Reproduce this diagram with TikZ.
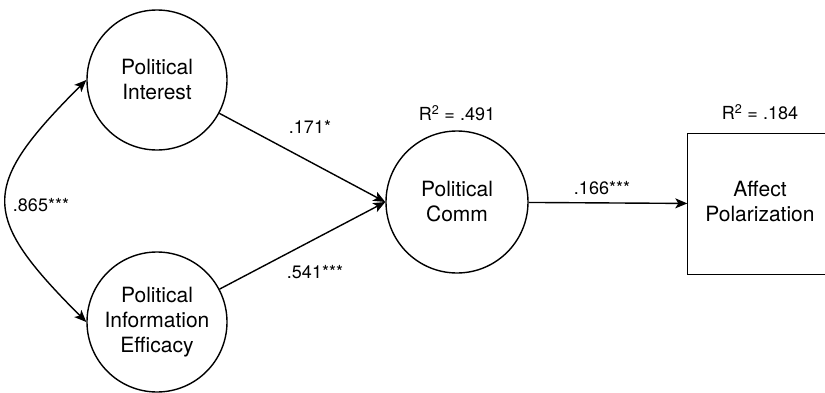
\documentclass[tikz,border=0pt]{standalone}
\usepackage{fontspec}
\setmainfont{TeX Gyre Heros}
\usetikzlibrary{arrows.meta}
\tikzset{
	var/.style={draw, circle, minimum size=140pt, align=center, font=\fontsize{21}{25}\selectfont},
	obs/.style={rectangle, minimum width=180pt, minimum height=140pt, font=\fontsize{21}{25}\selectfont},
	coef/.style={font=\fontsize{18}{21}\selectfont, inner sep=0pt}
}
\begin{document}
\begin{tikzpicture}[x=1pt, y=1pt, line width=1.4pt, >={Stealth[length=12pt, width=10pt, inset=3pt]}]
				\useasboundingbox (0,0) rectangle (825,392);
				\node (int) [var] at (157,312) {Political\\Interest};
				\node (eff) [var] at (157,70) {Political\\Information\\Efficacy};
				\node (comm) [var, minimum size=142pt] at (457,190) {Political\\Comm};
				% box runs off the right edge of the page
				\node (pol) [obs] at (778,188) {\hspace*{-36pt}\begin{tabular}{@{}c@{}}Affect\\Polarization\end{tabular}};
				\draw (pol.north east) -- (pol.north west) -- (pol.south west) -- (pol.south east);
				\node (r2comm) [coef] at (457,279) {R\textsuperscript{2} = .491};
				\node (r2pol) [coef] at (760,280) {R\textsuperscript{2} = .184};
				\node (cov) [coef] at (41,187) {.865***};
				\node (b1) [coef] at (310,265) {.171*};
				\node (b2) [coef] at (315,120) {.541***};
				\node (b3) [coef] at (602,204) {.166***};
				\draw[<->] (int.west) to[out=225, in=135, looseness=1.6] (eff.west);
				\draw[->] (int) -- (comm.west);
				\draw[->] (eff) -- (comm.west);
				\draw[->] (comm) -- (pol);
			\end{tikzpicture}
\end{document}
